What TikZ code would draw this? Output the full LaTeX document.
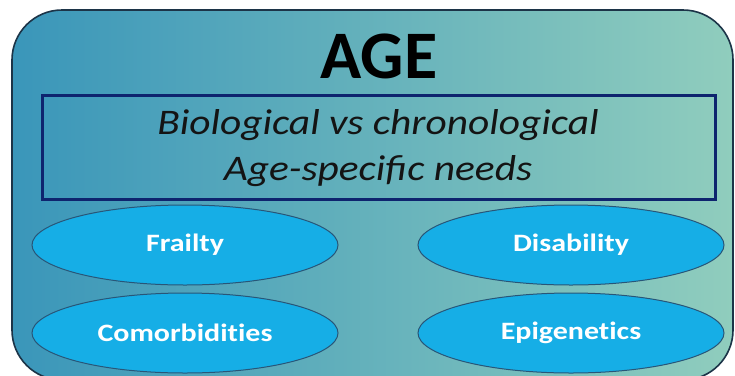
\documentclass[tikz,border=0pt]{standalone}
\usepackage{fontspec}
\setmainfont{Carlito}
\newfontfamily\widefont[FakeStretch=1.15]{Carlito}
\newfontfamily\ovalfont[FakeStretch=1.2, Ligatures=NoCommon]{Carlito}
\usetikzlibrary{shapes.geometric}
\definecolor{panelL}{RGB}{58,150,186}
\definecolor{panelR}{RGB}{144,205,189}
\definecolor{panelEdge}{RGB}{28,52,72}
\definecolor{boxEdge}{RGB}{14,36,110}
\definecolor{ovalFill}{RGB}{22,174,230}
\definecolor{ovalEdge}{RGB}{40,86,120}
\tikzset{
  panel/.style={rectangle, rounded corners=50pt, draw=panelEdge, line width=1.6pt,
    left color=panelL, right color=panelR, minimum width=721pt, minimum height=370pt, inner sep=0pt},
  topicbox/.style={rectangle, draw=boxEdge, line width=3pt, minimum width=673pt, minimum height=104pt, inner sep=0pt},
  factor/.style={ellipse, draw=ovalEdge, line width=1pt, fill=ovalFill, minimum width=306pt, minimum height=80pt,
    inner sep=0pt, text=white, font=\ovalfont\fontsize{25}{30}\selectfont\bfseries},
  subline/.style={anchor=base, font=\widefont\fontsize{36}{42}\selectfont\itshape, text=black!92, inner sep=0pt}
}
\begin{document}
\begin{tikzpicture}[x=1pt,y=-1pt]
\useasboundingbox (0,0) rectangle (735,375);
\fill[white] (0,0) rectangle (735,375);
\clip (0,0) rectangle (735,375);
% background panel
\node[panel] (panel) at (372.5,195) {};
% heading
\node[anchor=base, inner sep=0pt, font=\fontsize{68}{80}\selectfont\bfseries] (age) at (379,78) {AGE};
% framed sub-topics
\node[topicbox] (topics) at (378.5,147) {};
\node[subline] (bio) at (378,134) {Biological vs chronological};
\node[subline] (needs) at (378,180) {Age-specific needs};
% factor ovals
\node[factor] (frailty) at (185,245) {Frailty};
\node[factor] (comorb) at (185,333) {Comorbidities};
\node[factor] (disab) at (571,245) {Disability};
\node[factor] (epigen) at (571,333) {Epigenetics};
\end{tikzpicture}
\end{document}
